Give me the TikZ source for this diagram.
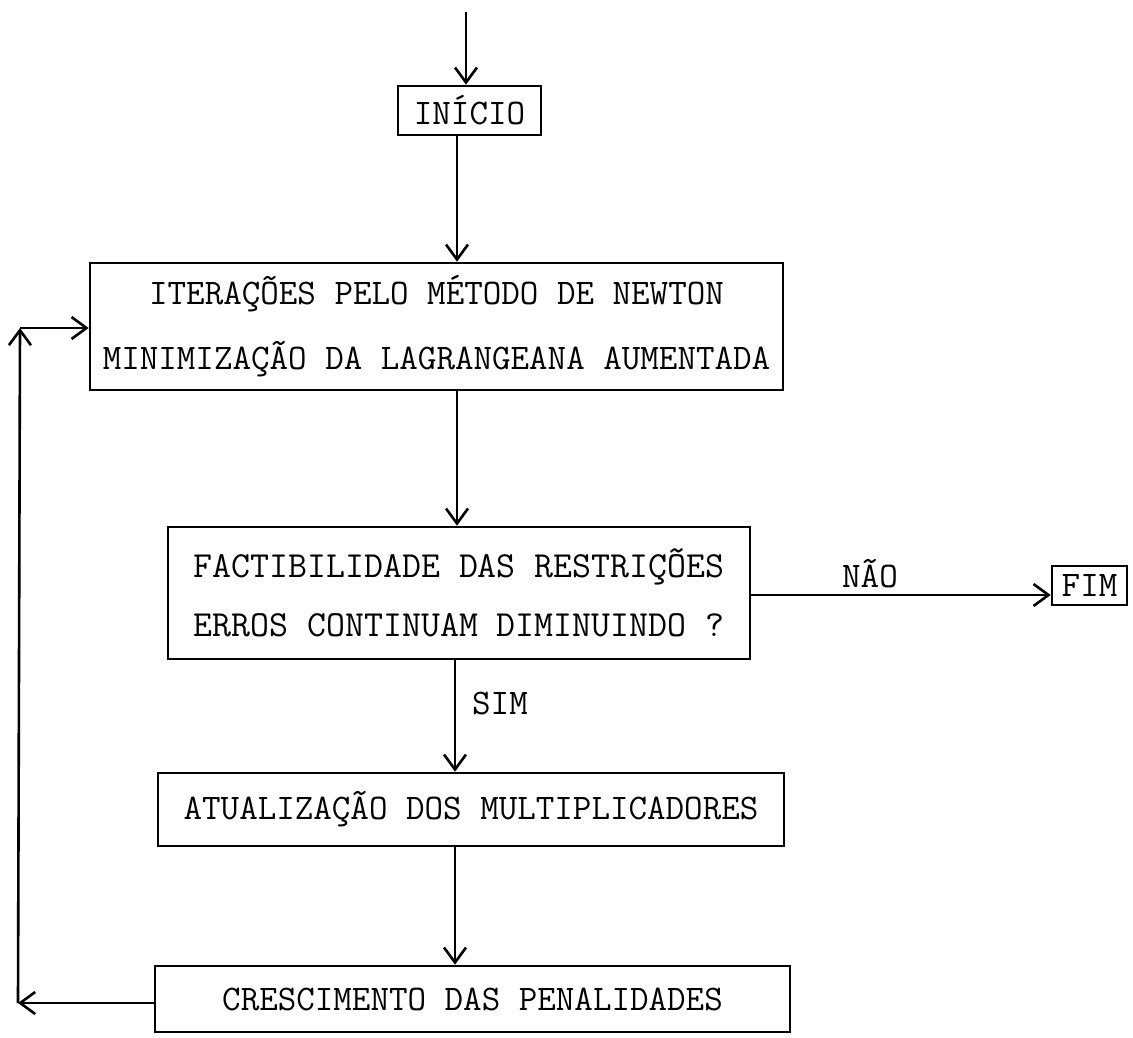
\documentclass[tikz,border=0pt]{standalone}
\usepackage{fontspec}
\usetikzlibrary{arrows.meta}
\begin{document}
\begin{tikzpicture}[x=0.5pt,y=-0.5pt,
  every node/.style={font=\ttfamily\fontsize{18}{32.5}\selectfont, inner sep=0pt},
  box/.style={draw, line width=1.3pt, align=center},
  arr/.style={line width=1.3pt, -{Straight Barb[length=7.5pt,width=11pt,line width=1.3pt]}},
  lbl/.style={font=\ttfamily\fontsize{18}{20}\selectfont}]
\useasboundingbox (0,0) rectangle (1133,1037);

% process boxes
\node[box, minimum width=71.5pt, minimum height=24.5pt] (ini) at (469.5,110.5) {INÍCIO};
\node[box, minimum width=346.5pt, minimum height=63.5pt] (newton) at (436.5,326.5)
  {ITERAÇÕES PELO MÉTODO DE NEWTON\\MINIMIZAÇÃO DA LAGRANGEANA AUMENTADA};
\node[box, minimum width=291pt, minimum height=66pt, font=\ttfamily\fontsize{18.4}{29.5}\selectfont] (fact) at (459,593)
  {FACTIBILIDADE DAS RESTRIÇÕES\\ERROS CONTINUAM DIMINUINDO ?};
\node[box, minimum width=313pt, minimum height=36.5pt] (mult) at (471,809.5) {ATUALIZAÇÃO DOS MULTIPLICADORES};
\node[box, minimum width=317.5pt, minimum height=33pt] (pen) at (472.5,999) {CRESCIMENTO DAS PENALIDADES};
\node[box, minimum width=37.5pt, minimum height=19.5pt] (fim) at (1089.5,585.5) {FIM};

% guide coordinates for the vertical flow
\coordinate (start) at (466,12);
\coordinate (xa) at (457,0);
\coordinate (xb) at (455,0);
\coordinate (ly) at (0,1003);
\coordinate (c1) at (18,1003);
\coordinate (c2) at (20,328);

% main flow
\draw[arr] (start) -- (ini.north -| start);
\draw[arr] (ini.south -| xa) -- (newton.north -| xa);
\draw[arr] (newton.south -| xa) -- (fact.north -| xa);
\draw[arr] (fact.south -| xb) -- (mult.north -| xb);
\draw[arr] (mult.south -| xb) -- (pen.north -| xb);

% exit branch
\draw[arr] (fact.east |- 0,595) -- (fim.west |- 0,595);
\node[lbl] (nao) at (870,574) {NÃO};
\node[lbl] (sim) at (500,703) {SIM};

% feedback loop
\draw[arr] (pen.west |- ly) -- (c1);
\draw[arr] (c1) -- (c2);
\draw[arr] (c2) -- (newton.west |- c2);
\end{tikzpicture}
\end{document}
